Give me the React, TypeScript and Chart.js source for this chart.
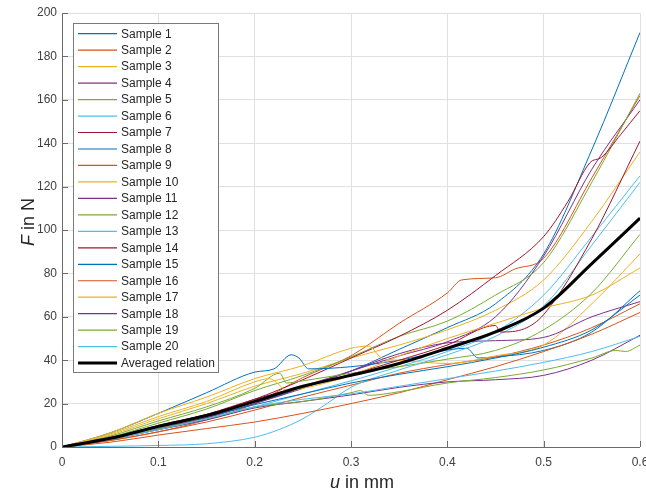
import React, { useEffect, useRef } from "react";
import { Chart, registerables } from "chart.js";

Chart.register(...registerables);

// ---------- data ----------
const U = [0, 0.05, 0.1, 0.15, 0.2, 0.25, 0.3, 0.35, 0.4, 0.45, 0.5, 0.55, 0.6];

const S1 = [0, 3.5, 8.5, 13.5, 20, 27.5, 35, 45, 55, 66, 89, 137, 191];
const X2 = [0, 0.05, 0.1, 0.15, 0.2, 0.25, 0.3, 0.35, 0.4, 0.415, 0.45, 0.47, 0.5, 0.55, 0.6];
const S2 = [0, 3, 7, 12.5, 20, 32, 42, 57, 71, 77, 78, 82, 87, 124, 162];
const S3 = [0, 5.5, 13, 20, 28, 34, 41, 47, 54, 63, 77, 104, 136];
const S4 = [0, 3.5, 8.5, 13.5, 21, 28, 35, 42, 48.5, 60, 88, 128, 160];
const S5 = [0, 4.5, 11, 17.5, 26, 33, 41.5, 51, 58, 70, 85, 122, 163];
const S6 = [0, 3.5, 8, 12.5, 18.5, 24.5, 30.5, 37, 44, 53, 70, 97, 125];
const X7 = [0, 0.05, 0.1, 0.15, 0.2, 0.25, 0.3, 0.35, 0.4, 0.45, 0.5, 0.525, 0.548, 0.56, 0.58, 0.6];
const S7 = [0, 4, 10, 15, 22, 31, 41, 51, 63, 79, 97, 113, 131, 133.5, 144, 155];
const X8 = [0, 0.05, 0.1, 0.15, 0.2, 0.22, 0.238, 0.246, 0.256, 0.3, 0.35, 0.42, 0.432, 0.45, 0.5, 0.55, 0.6];
const S8 = [0, 6.5, 15.5, 25, 34.5, 36, 42.5, 41, 36, 37, 40, 45.5, 41, 41.5, 44.5, 53, 72];
const S9 = [0, 3, 7, 11.5, 17, 23, 28.5, 34, 38, 41.5, 47, 55, 66];
const X10 = [0, 0.05, 0.1, 0.15, 0.2, 0.25, 0.3, 0.318, 0.332, 0.35, 0.4, 0.45, 0.5, 0.55, 0.6];
const S10 = [0, 6.5, 15.5, 23, 31.5, 37.5, 45.5, 46.5, 41, 40, 38.5, 42, 47, 66, 89];
const S11 = [0, 3.5, 8.5, 13.5, 20, 27, 35, 43, 48, 49, 50.5, 60, 67];
const X12 = [0, 0.05, 0.1, 0.15, 0.2, 0.226, 0.233, 0.25, 0.3, 0.35, 0.4, 0.45, 0.5, 0.55, 0.6];
const S12 = [0, 5, 12, 18.5, 27, 34, 29.5, 30.5, 34, 37, 40.5, 44.5, 54, 71, 98];
const X13 = [0, 0.05, 0.1, 0.15, 0.2, 0.225, 0.25, 0.275, 0.3, 0.35, 0.4, 0.45, 0.5, 0.55, 0.6];
const S13 = [0, 0.3, 0.7, 1.5, 4.5, 8, 13, 20, 27.5, 35.5, 42.5, 51, 65, 93, 122];
const X14 = [0, 0.05, 0.1, 0.15, 0.2, 0.25, 0.3, 0.35, 0.4, 0.45, 0.455, 0.48, 0.5, 0.55, 0.6];
const S14 = [0, 4, 9.5, 15, 22, 28, 33.5, 40, 47, 56, 53, 54.5, 61, 96, 141];
const S15 = [0, 4, 9, 14, 19.5, 24.5, 29.5, 33.5, 37, 41, 46, 54, 70];
const S16 = [0, 2.2, 5.5, 8.5, 11.5, 15.5, 20, 25, 31, 37, 44, 52, 62];
const X17 = [0, 0.05, 0.1, 0.15, 0.2, 0.215, 0.235, 0.25, 0.3, 0.35, 0.4, 0.45, 0.5, 0.55, 0.6];
const S17 = [0, 6, 14, 21, 30, 31.5, 26, 27, 33, 42, 50, 57, 64, 70, 82.5];
const S18 = [0, 3.5, 8, 12.5, 18, 21, 24, 27.5, 30, 31, 33, 40, 51.5];
const X19 = [0, 0.05, 0.1, 0.15, 0.2, 0.25, 0.3, 0.31, 0.318, 0.35, 0.4, 0.45, 0.5, 0.55, 0.575, 0.585, 0.6];
const S19 = [0, 3.5, 8.5, 13, 18.5, 21, 25, 26, 23.8, 25.5, 29.5, 32, 35.5, 41, 44.5, 44, 47];
const S20 = [0, 3.5, 8, 13, 18.5, 22, 24.5, 28, 31.5, 35, 39, 44, 51];
const AVG = [0, 4, 9.5, 14.5, 21, 28, 33, 38.5, 45.5, 53, 64, 84.5, 105.5];

const X_TICKS = [0, 0.1, 0.2, 0.3, 0.4, 0.5, 0.6];
const Y_TICKS = [0, 20, 40, 60, 80, 100, 120, 140, 160, 180, 200];

const PALETTE = ["#0072BD", "#D95319", "#EDB120", "#7E2F8E", "#77AC30", "#4DBEEE", "#A2142F"];

const SAMPLES: { xs: number[]; ys: number[] }[] = [
  { xs: U, ys: S1 }, { xs: X2, ys: S2 }, { xs: U, ys: S3 }, { xs: U, ys: S4 },
  { xs: U, ys: S5 }, { xs: U, ys: S6 }, { xs: X7, ys: S7 }, { xs: X8, ys: S8 },
  { xs: U, ys: S9 }, { xs: X10, ys: S10 }, { xs: U, ys: S11 }, { xs: X12, ys: S12 },
  { xs: X13, ys: S13 }, { xs: X14, ys: S14 }, { xs: U, ys: S15 }, { xs: U, ys: S16 },
  { xs: X17, ys: S17 }, { xs: U, ys: S18 }, { xs: X19, ys: S19 }, { xs: U, ys: S20 },
];

const FONT = "'Liberation Sans', Arial, Helvetica, sans-serif";

const decor = {
  id: "decor",
  afterDatasetsDraw(chart: any) {
    const { ctx, chartArea, scales } = chart;
    const { left, right, top, bottom } = chartArea;
    const xs = scales.x;
    const ys = scales.y;
    ctx.save();
    // axis lines
    ctx.strokeStyle = "#6b6b6b";
    ctx.lineWidth = 1;
    ctx.beginPath();
    ctx.moveTo(left + 0.5, top);
    ctx.lineTo(left + 0.5, bottom + 0.5);
    ctx.lineTo(right, bottom + 0.5);
    ctx.stroke();
    // inward ticks
    ctx.beginPath();
    for (const v of Y_TICKS) {
      const py = Math.round(ys.getPixelForValue(v)) + 0.5;
      ctx.moveTo(left, py);
      ctx.lineTo(left + 6, py);
    }
    for (const v of X_TICKS) {
      const px = Math.round(xs.getPixelForValue(v)) + 0.5;
      ctx.moveTo(px, bottom);
      ctx.lineTo(px, bottom - 6);
    }
    ctx.stroke();

    // legend
    const bx = 73.5, by = 23.5, bw = 145, bh = 349;
    ctx.fillStyle = "#ffffff";
    ctx.fillRect(bx, by, bw, bh);
    ctx.strokeStyle = "#7a7a7a";
    ctx.lineWidth = 1;
    ctx.strokeRect(bx, by, bw, bh);
    ctx.font = `12px ${FONT}`;
    ctx.textBaseline = "middle";
    ctx.textAlign = "left";
    chart.data.datasets.forEach((ds: any, i: number) => {
      const cy = 33.7 + i * 16.47;
      ctx.strokeStyle = ds.borderColor;
      ctx.lineWidth = ds.borderWidth > 2 ? 3 : 1.2;
      ctx.beginPath();
      ctx.moveTo(78, cy);
      ctx.lineTo(117, cy);
      ctx.stroke();
      ctx.fillStyle = "#262626";
      ctx.fillText(ds.label, 121, cy + 0.5);
    });

    // axis titles with italic symbols
    ctx.fillStyle = "#262626";
    ctx.textBaseline = "alphabetic";
    const italic = `italic 18px ${FONT}`;
    const normal = `18px ${FONT}`;
    const drawTitle = (sym: string, rest: string, cx: number, cy: number, rot: boolean) => {
      ctx.save();
      ctx.translate(cx, cy);
      if (rot) ctx.rotate(-Math.PI / 2);
      ctx.font = italic;
      const w1 = ctx.measureText(sym).width;
      ctx.font = normal;
      const w2 = ctx.measureText(rest).width;
      const start = -(w1 + w2) / 2;
      ctx.font = italic;
      ctx.textAlign = "left";
      ctx.fillText(sym, start, 0);
      ctx.font = normal;
      ctx.fillText(rest, start + w1, 0);
      ctx.restore();
    };
    drawTitle("F", " in N", 34, 222, true);
    drawTitle("u", " in mm", 362, 488, false);
    ctx.restore();
  },
};

export default function App() {
  const ref = useRef<HTMLCanvasElement | null>(null);

  useEffect(() => {
    if (!ref.current) return;
    const datasets: any[] = SAMPLES.map((s, i) => ({
      label: `Sample ${i + 1}`,
      data: s.ys.map((y, j) => ({ x: s.xs[j], y })),
      borderColor: PALETTE[i % PALETTE.length],
      borderWidth: 1,
      pointRadius: 0,
      cubicInterpolationMode: "monotone",
      fill: false,
      order: -i,
    }));
    datasets.push({
      label: "Averaged relation",
      data: AVG.map((y, j) => ({ x: U[j], y })),
      borderColor: "#000000",
      borderWidth: 3,
      pointRadius: 0,
      cubicInterpolationMode: "monotone",
      fill: false,
      order: -100,
    });

    const chart = new Chart(ref.current, {
      type: "line",
      data: { datasets },
      options: {
        responsive: false,
        animation: false,
        devicePixelRatio: 1,
        layout: { padding: { left: 0, top: 13, right: 60, bottom: 0 } },
        plugins: { legend: { display: false }, tooltip: { enabled: false } },
        scales: {
          x: {
            type: "linear",
            min: 0,
            max: 0.6,
            afterFit: (s: any) => { s.height = 43; },
            afterBuildTicks: (s: any) => { s.ticks = X_TICKS.map((v) => ({ value: v })); },
            ticks: {
              padding: 8,
              color: "#404040",
              font: { family: FONT, size: 12 },
              maxRotation: 0,
              callback: (v: any) => (v === 0 ? "0" : Number(v).toFixed(1)),
            },
            grid: { color: "#e0e0e0", drawTicks: false, lineWidth: 1 },
            border: { display: false },
          },
          y: {
            type: "linear",
            min: 0,
            max: 200,
            afterFit: (s: any) => { s.width = 62; },
            afterBuildTicks: (s: any) => { s.ticks = Y_TICKS.map((v) => ({ value: v })); },
            ticks: {
              padding: 5,
              color: "#404040",
              font: { family: FONT, size: 12 },
            },
            grid: { color: "#e0e0e0", drawTicks: false, lineWidth: 1 },
            border: { display: false },
          },
        },
      },
      plugins: [decor],
    });
    return () => chart.destroy();
  }, []);

  return (
    <div
      style={{
        position: "fixed",
        left: 0,
        top: 0,
        width: 646,
        height: 490,
        overflow: "hidden",
        background: "#ffffff",
      }}
    >
      <canvas ref={ref} width={700} height={490} style={{ display: "block", width: 700, height: 490 }} />
    </div>
  );
}
